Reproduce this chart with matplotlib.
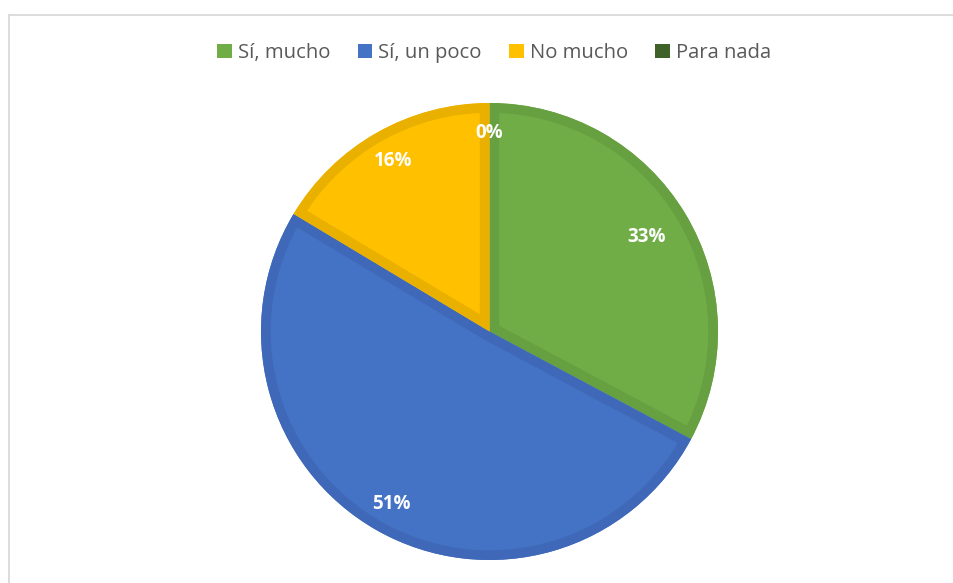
import matplotlib
matplotlib.use("Agg")
import matplotlib.pyplot as plt
from matplotlib.patches import Patch, Wedge
from matplotlib.lines import Line2D
import numpy as np

categories = ["Sí, mucho", "Sí, un poco", "No mucho", "Para nada"]
values = [32.8, 50.8, 16.4, 0.0]
fill_colors = ["#70AD47", "#4472C4", "#FFC000", "#3F6229"]
edge_colors = ["#66A040", "#3F69B8", "#EAB000", "#365623"]
label_dist = [0.80, 0.87, 0.86, 0.87]

W, H = 954, 583
fig = plt.figure(figsize=(W / 100, H / 100), dpi=100)
fig.patch.set_facecolor("white")

cx, cy, R = 489.5, 331.5, 228.5
ax = fig.add_axes([(cx - R) / W, (H - cy - R) / H, 2 * R / W, 2 * R / H])
wedges, _ = ax.pie(values, colors=fill_colors, startangle=90, counterclock=False,
                   radius=1, center=(0, 0), frame=False,
                   wedgeprops=dict(linewidth=0))
for w, ec, v in zip(wedges, edge_colors, values):
    if v <= 0:
        w.set_visible(False)
        continue
    border = Wedge(w.center, w.r, w.theta1, w.theta2, facecolor="none",
                   edgecolor=ec, linewidth=14, transform=ax.transData)
    ax.add_patch(border)
    border.set_clip_path(w)
ax.set_xlim(-1, 1)
ax.set_ylim(-1, 1)
ax.set_aspect("equal")

total = sum(values)
cum = 0
for v, d in zip(values, label_dist):
    mid = 90 - 360 * (cum + v / 2) / total
    cum += v
    th = np.deg2rad(mid)
    ax.text(d * np.cos(th), d * np.sin(th), f"{round(v)}%", ha="center", va="center",
            color="white", fontsize=13.5, fontweight="bold", family="Open Sans")

handles = [Patch(facecolor=c, edgecolor="none") for c in fill_colors]
leg = fig.legend(handles, categories, loc="center", bbox_to_anchor=(494 / W, 1 - 53 / H),
                 ncol=4, frameon=False, handlelength=0.72, handleheight=0.72,
                 handletextpad=0.3, columnspacing=1.35,
                 prop={"family": "Open Sans", "size": 14.6})
for t in leg.get_texts():
    t.set_color("#595959")

# chart frame
fc = "#D9D9D9"
fig.add_artist(Line2D([9.5 / W, 9.5 / W], [0, 1 - 14.5 / H], color=fc, lw=1.3,
                      transform=fig.transFigure))
fig.add_artist(Line2D([9.5 / W, 1], [1 - 14.5 / H, 1 - 14.5 / H], color=fc, lw=1.3,
                      transform=fig.transFigure))

fig.savefig("out.png", dpi=100, facecolor="white")
